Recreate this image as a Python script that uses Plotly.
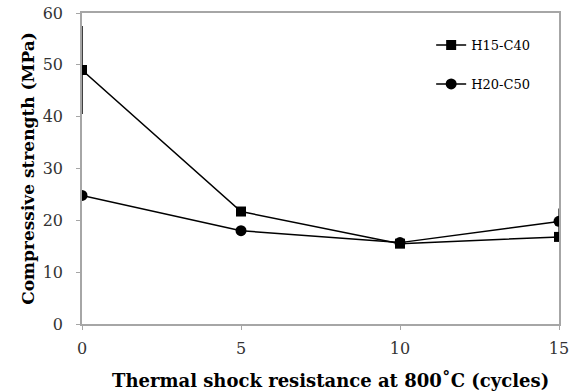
import plotly.graph_objects as go

# Thermal shock cycles at 800 °C
cycles = [0, 5, 10, 15]

# Compressive strength (MPa) per mix
h15_c40 = [49.0, 21.7, 15.5, 16.8]
h20_c50 = [24.8, 18.0, 15.7, 19.8]

# Standard deviation bars (MPa)
h15_c40_err = [8.5, 0, 0, 0]
h20_c50_err = [0, 0, 0, 2.5]

serif = "DejaVu Serif"
axis_grey = "#a6a6a6"

fig = go.Figure()
fig.add_trace(go.Scatter(
    x=cycles, y=h15_c40, name="H15-C40", mode="lines+markers",
    line=dict(color="black", width=1.5),
    marker=dict(symbol="square", size=10, color="black"),
    error_y=dict(type="data", array=h15_c40_err, visible=True,
                 color="black", thickness=1.5, width=0),
    legendgroup="a",
))
fig.add_trace(go.Scatter(
    x=cycles, y=h20_c50, name="H20-C50", mode="lines+markers",
    line=dict(color="black", width=1.5),
    marker=dict(symbol="circle", size=11, color="black"),
    error_y=dict(type="data", array=h20_c50_err, visible=True,
                 color="black", thickness=1.2, width=0),
    legendgroup="b",
))

# x-axis title, set slightly right of the plot centre
fig.add_annotation(
    text="<b>Thermal shock resistance at 800˚C (cycles)</b>",
    xref="paper", yref="paper", x=0.52, y=-0.18,
    xanchor="center", yanchor="middle", showarrow=False,
    font=dict(family=serif, size=18, color="black"),
)

fig.update_layout(
    width=571, height=392,
    margin=dict(l=82, r=12, t=13, b=68),
    paper_bgcolor="white", plot_bgcolor="white",
    font=dict(family=serif, color="black", size=16),
    showlegend=True,
    legend=dict(
        x=0.732, y=0.945, xanchor="left", yanchor="top",
        font=dict(family=serif, size=13, color="black"),
        bgcolor="rgba(0,0,0,0)", tracegroupgap=19,
        traceorder="grouped", itemwidth=30,
    ),
    xaxis=dict(
        range=[0, 15], tickvals=[0, 5, 10, 15], automargin=False,
        showgrid=False, zeroline=False,
        showline=True, linecolor=axis_grey, linewidth=1.5, mirror=True,
        ticks="outside", ticklen=4, tickcolor=axis_grey,
        ticklabelstandoff=5,
        tickfont=dict(family=serif, size=16, color="#333333"),
    ),
    yaxis=dict(
        range=[0, 60], tickvals=[0, 10, 20, 30, 40, 50, 60], automargin=False,
        showgrid=False, zeroline=False,
        showline=True, linecolor=axis_grey, linewidth=1.5, mirror=True,
        ticks="outside", ticklen=4, tickcolor=axis_grey,
        ticklabelstandoff=10,
        tickfont=dict(family=serif, size=16, color="#333333"),
        title=dict(text="<b>Compressive strength (MPa)</b>",
                   font=dict(family=serif, size=17), standoff=4),
    ),
)

fig.write_html("out.html")
